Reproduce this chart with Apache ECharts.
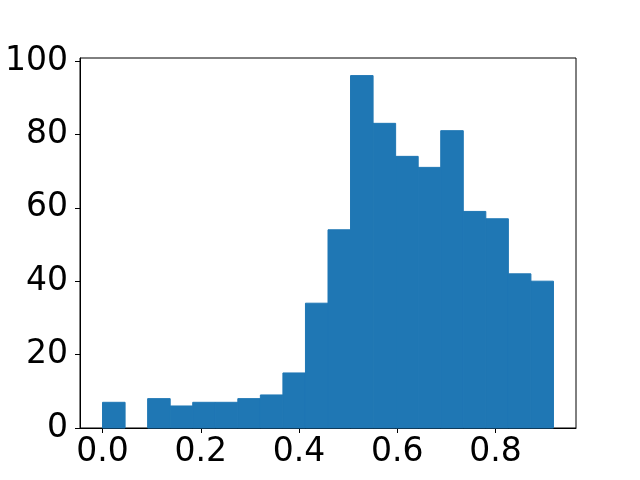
<!DOCTYPE html>
<html>
<head>
<meta charset="utf-8">
<script src="https://cdn.jsdelivr.net/npm/echarts@6/dist/echarts.min.js"></script>
<style>
  html, body { margin: 0; padding: 0; background: #fff; }
  #chart { width: 640px; height: 480px; }
</style>
</head>
<body>
<div id="chart"></div>
<script>
// histogram: 20 equal bins between binMin and binMax
const binMin = 0.0
const binMax = 0.918
const counts = [7, 0, 8, 6, 7, 7, 8, 9, 15, 34, 54, 96, 83, 74, 71, 81, 59, 57, 42, 40]
const xTicks = [0.0, 0.2, 0.4, 0.6, 0.8]
const yTicks = [0, 20, 40, 60, 80, 100]

const binW = (binMax - binMin) / counts.length
const bins = counts.map((c, i) => [binMin + i * binW, binMin + (i + 1) * binW, c])

const pad = (binMax - binMin) * 0.05
const yMax = Math.max(...counts) * 1.05

const labelStyle = {
  color: "#000",
  fontFamily: "DejaVu Sans",
  fontSize: 33,
}

let myChart = echarts.init(document.getElementById("chart"))
myChart.setOption({
  animation: false,
  grid: {
    left: 80,
    right: 64,
    top: 58,
    bottom: 52,
    show: true,
    borderColor: "#000",
    borderWidth: 1,
    backgroundColor: "transparent",
  },
  xAxis: {
    type: "value",
    min: binMin - pad,
    max: binMax + pad,
    splitLine: { show: false },
    axisLine: { show: true, onZero: false, lineStyle: { color: "#000", width: 1 } },
    axisTick: { show: true, length: 5, customValues: xTicks, lineStyle: { color: "#000" } },
    axisLabel: {
      ...labelStyle,
      margin: 8,
      customValues: xTicks,
      formatter: (v) => v.toFixed(1),
    },
  },
  yAxis: {
    type: "value",
    min: 0,
    max: yMax,
    splitLine: { show: false },
    axisLine: { show: true, onZero: false, lineStyle: { color: "#000", width: 1 } },
    axisTick: { show: true, length: 5, customValues: yTicks, lineStyle: { color: "#000" } },
    axisLabel: {
      ...labelStyle,
      margin: 12,
      customValues: yTicks,
    },
  },
  series: [
    {
      type: "custom",
      data: bins,
      encode: { x: [0, 1], y: 2 },
      renderItem: (params, api) => {
        if (!api.value(2)) return null
        const p0 = api.coord([api.value(0), api.value(2)])
        const p1 = api.coord([api.value(1), 0])
        return {
          type: "rect",
          shape: { x: p0[0], y: p0[1], width: p1[0] - p0[0], height: p1[1] - p0[1] },
          style: { fill: "#1f77b4", stroke: "#1f77b4", lineWidth: 1 },
        }
      },
    },
  ],
})
</script>
</body>
</html>
